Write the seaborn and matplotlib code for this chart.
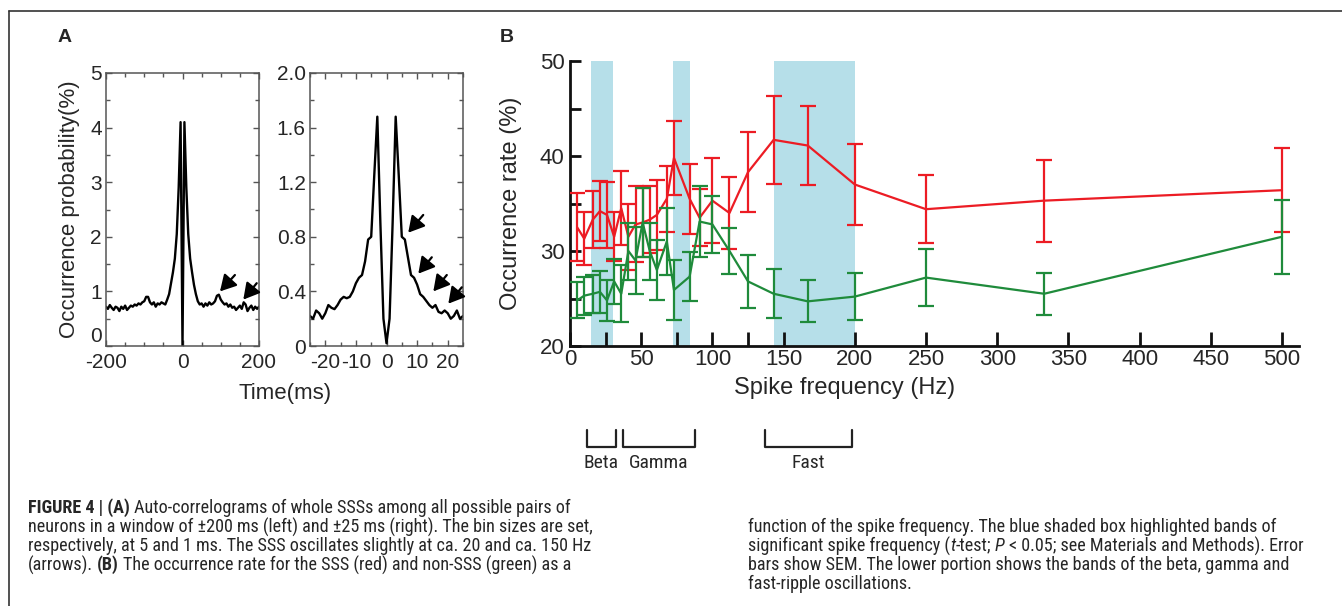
import numpy as np
import pandas as pd
import matplotlib
matplotlib.use("Agg")
import matplotlib.pyplot as plt
import seaborn as sns
from matplotlib import font_manager
from matplotlib.lines import Line2D
from matplotlib.ticker import MultipleLocator, FixedLocator

# ---------------- data ----------------
lag_wide_ms = list(range(-200, 201, 5))
prob_wide = [0.72, 0.68, 0.75, 0.70, 0.66, 0.72, 0.70, 0.64, 0.72, 0.68,
             0.74, 0.66, 0.70, 0.74, 0.72, 0.76, 0.74, 0.78, 0.76, 0.80,
             0.82, 0.90, 0.90, 0.80, 0.76, 0.80, 0.72, 0.78, 0.76, 0.80,
             0.78, 0.76, 0.85, 0.95, 1.15, 1.35, 1.60, 2.05, 2.90, 4.10,
             0.00,
             4.10, 2.90, 2.05, 1.60, 1.35, 1.12, 0.95, 0.82, 0.76, 0.78,
             0.72, 0.78, 0.74, 0.80, 0.76, 0.78, 0.82, 0.92, 0.94, 0.85,
             0.80, 0.76, 0.78, 0.72, 0.76, 0.70, 0.72, 0.66, 0.70, 0.74,
             0.68, 0.80, 0.76, 0.64, 0.70, 0.74, 0.66, 0.72, 0.68, 0.72]

lag_narrow_ms = list(range(-25, 26))
prob_narrow = [0.22, 0.20, 0.26, 0.24, 0.20, 0.24, 0.30, 0.28, 0.27, 0.30,
               0.34, 0.36, 0.35, 0.36, 0.40, 0.46, 0.50, 0.52, 0.62, 0.78,
               0.80, 1.25, 1.68, 0.90, 0.20,
               0.02,
               0.20, 0.90, 1.68, 1.25, 0.80, 0.78, 0.65, 0.52, 0.50, 0.45,
               0.38, 0.36, 0.33, 0.30, 0.28, 0.30, 0.25, 0.24, 0.26, 0.24,
               0.20, 0.22, 0.26, 0.20, 0.22]

freq_hz = [5, 10, 16, 21, 26, 31, 36, 41, 46, 51, 56, 61, 68, 73, 84, 91,
           100, 112, 125, 143, 167, 200, 250, 333, 500]
sss_rate = [32.5, 31.3, 33.3, 34.2, 33.8, 31.5, 34.5, 31.5, 32.8, 33.0,
            33.3, 33.8, 35.5, 39.8, 35.5, 33.5, 35.3, 34.0, 38.3, 41.7,
            41.1, 37.0, 34.4, 35.3, 36.4]
sss_sem = [3.6, 2.8, 3.0, 3.2, 3.5, 2.6, 3.9, 3.5, 4.0, 3.6,
           3.5, 3.7, 3.5, 3.9, 3.7, 3.0, 4.5, 3.8, 4.2, 4.6,
           4.2, 4.3, 3.6, 4.3, 4.4]
non_sss_rate = [24.8, 25.3, 25.5, 25.7, 24.8, 26.8, 25.5, 30.0, 29.0, 33.0,
                30.0, 28.0, 31.0, 25.9, 27.3, 33.1, 32.8, 30.0, 26.8, 25.5,
                24.7, 25.2, 27.2, 25.5, 31.5]
non_sss_sem = [1.9, 2.0, 2.0, 2.2, 2.2, 2.4, 3.0, 3.0, 3.5, 3.6,
               3.0, 3.2, 3.5, 3.2, 2.6, 3.7, 3.0, 2.4, 2.8, 2.6,
               2.2, 2.5, 3.0, 2.2, 3.9]

sig_bands = [(15, 30), (72, 84), (143, 200)]
osc_bands = [(12, 32, "Beta"), (37, 88, "Gamma"), (137, 198, "Fast")]

# arrows in panel A: (tip_x, tip_y, tail_x, tail_y)
arrows_wide = [(98, 1.00, 137, 1.30), (159, 0.85, 194, 1.15)]
arrows_narrow = [(7.1, 0.83, 12.0, 0.96), (10.4, 0.53, 14.8, 0.65),
                 (15.3, 0.40, 19.7, 0.52), (20.2, 0.31, 24.6, 0.43)]

caption_left = [
    [("FIGURE 4 | (A)", "bold", "normal"),
     ("Auto-correlograms of whole SSSs among all possible pairs of", "normal", "normal")],
    [("neurons in a window of \u00b1200 ms (left) and \u00b125 ms (right). The bin sizes are set,", "normal", "normal")],
    [("respectively, at 5 and 1 ms. The SSS oscillates slightly at ca. 20 and ca. 150 Hz", "normal", "normal")],
    [("(arrows).", "normal", "normal"), ("(B)", "bold", "normal"),
     ("The occurrence rate for the SSS (red) and non-SSS (green) as a", "normal", "normal")],
]
caption_right = [
    [("function of the spike frequency. The blue shaded box highlighted bands of", "normal", "normal")],
    [("significant spike frequency (", "normal", "normal"), ("t", "normal", "italic"),
     ("-test;", "normal", "normal"), ("P", "normal", "italic"),
     ("< 0.05; see Materials and Methods). Error", "normal", "normal")],
    [("bars show SEM. The lower portion shows the bands of the beta, gamma and", "normal", "normal")],
    [("fast-ripple oscillations.", "normal", "normal")],
]

# ---------------- style ----------------
sns.set_style("ticks")
names = {f.name for f in font_manager.fontManager.ttflist}
main_font = ["Liberation Sans", "DejaVu Sans"]
narrow_font = ["Liberation Sans", "DejaVu Sans"]
narrow_stretch = "normal"
for cand in ["Liberation Sans Narrow", "Roboto Condensed", "Open Sans Condensed",
             "Noto Sans Condensed", "Arial Narrow", "Nimbus Sans Narrow"]:
    if cand in names:
        narrow_font = [cand, "DejaVu Sans"]
        break
else:
    cond = [f for f in font_manager.fontManager.ttflist
            if str(f.stretch) in ("condensed", "semi-condensed", "extra-condensed")]
    if cond:
        narrow_font = [cond[0].name, "DejaVu Sans"]
        narrow_stretch = cond[0].stretch

plt.rcParams["font.family"] = main_font
plt.rcParams["axes.unicode_minus"] = False

W, H = 1342, 606
fig = plt.figure(figsize=(W / 100, H / 100), dpi=100)
fig.patch.set_facecolor("white")

def fx(px):
    return px / W

def fy(py):
    return 1 - py / H

RED = "#ec1c24"
GREEN = "#1f8b3b"
BLUE = "#b6dfe9"
GRAY = "#555555"

# ---------------- panel A ----------------
axL = fig.add_axes([fx(106), fy(346), fx(259) - fx(106), fy(73) - fy(346)])
axR = fig.add_axes([fx(310), fy(346), fx(463) - fx(310), fy(73) - fy(346)])

dfw = pd.DataFrame({"lag": lag_wide_ms, "prob": prob_wide})
dfn = pd.DataFrame({"lag": lag_narrow_ms, "prob": prob_narrow})
sns.lineplot(data=dfw, x="lag", y="prob", ax=axL, color="black", lw=1.7)
sns.lineplot(data=dfn, x="lag", y="prob", ax=axR, color="black", lw=1.7)

axL.set_xlim(-200, 200)
axL.set_ylim(0, 5)
axL.set_xticks([-200, 0, 200])
axL.xaxis.set_minor_locator(MultipleLocator(50))
axL.set_yticks([0, 1, 2, 3, 4, 5])
axL.yaxis.set_minor_locator(MultipleLocator(0.5))

axR.set_xlim(-25, 25)
axR.set_ylim(0, 2.0)
axR.set_xticks([-20, -10, 0, 10, 20])
axR.xaxis.set_minor_locator(MultipleLocator(5))
axR.set_yticks([0, 0.4, 0.8, 1.2, 1.6, 2.0])
axR.set_yticklabels(["0", "0.4", "0.8", "1.2", "1.6", "2.0"])
axR.yaxis.set_minor_locator(MultipleLocator(0.2))

for ax in (axL, axR):
    ax.set_xlabel("")
    ax.set_ylabel("")
    for s in ax.spines.values():
        s.set_visible(True)
        s.set_color(GRAY)
        s.set_linewidth(1.1)
    ax.tick_params(which="both", direction="in", top=True, right=True,
                   color=GRAY, width=1.0, labelsize=15, pad=3)
    ax.tick_params(axis="x", which="both", pad=5)
    ax.tick_params(which="major", length=4)
    ax.tick_params(which="minor", length=3)

fig.canvas.draw()
axL.get_yticklabels()[0].set_va("bottom")

axL.set_ylabel("Occurrence probability(%)", fontsize=16)
axL.yaxis.set_label_coords((80 - 106) / 153, 0.5)
fig.text(fx(285), fy(393), "Time(ms)", fontsize=16, ha="center", va="center")

astyle = "-|>,head_length=0.8,head_width=0.45"
for (tx, ty, sx, sy) in arrows_wide:
    axL.annotate("", xy=(tx, ty), xytext=(sx, sy), annotation_clip=False,
                 arrowprops=dict(arrowstyle=astyle, color="black", lw=1.6,
                                 mutation_scale=12, shrinkA=0, shrinkB=0))
for (tx, ty, sx, sy) in arrows_narrow:
    axR.annotate("", xy=(tx, ty), xytext=(sx, sy), annotation_clip=False,
                 arrowprops=dict(arrowstyle=astyle, color="black", lw=1.6,
                                 mutation_scale=12, shrinkA=0, shrinkB=0))

fig.text(fx(58), fy(38), "A", fontsize=14, fontweight="bold", ha="left", va="center")

# ---------------- panel B ----------------
x_max = 512
axB_w = 1.424 * x_max
axB = fig.add_axes([fx(570), fy(346), fx(570 + axB_w) - fx(570), fy(61) - fy(346)])
for lo, hi in sig_bands:
    axB.axvspan(lo, hi, color=BLUE, lw=0, zorder=0)

sns.lineplot(x=freq_hz, y=sss_rate, ax=axB, color=RED, lw=1.6, zorder=3)
axB.errorbar(freq_hz, sss_rate, yerr=sss_sem, fmt="none", ecolor=RED,
             elinewidth=1.6, capsize=6, capthick=1.6, zorder=3)
sns.lineplot(x=freq_hz, y=non_sss_rate, ax=axB, color=GREEN, lw=1.6, zorder=4)
axB.errorbar(freq_hz, non_sss_rate, yerr=non_sss_sem, fmt="none", ecolor=GREEN,
             elinewidth=1.6, capsize=6, capthick=1.6, zorder=4)

axB.set_xlim(0, x_max)
axB.set_ylim(20, 50)
axB.set_xticks(list(range(0, 501, 50)))
axB.xaxis.set_minor_locator(FixedLocator([25, 75, 125]))
axB.set_yticks([20, 30, 40, 50])
axB.yaxis.set_minor_locator(MultipleLocator(5))
sns.despine(ax=axB)
for s in ("left", "bottom"):
    axB.spines[s].set_linewidth(2.0)
    axB.spines[s].set_color("#111111")
axB.tick_params(which="both", direction="in", width=2.0, color="#111111",
                labelsize=16, pad=4)
axB.tick_params(axis="x", which="both", length=10, pad=2)
axB.tick_params(axis="y", which="both", length=8)
axB.set_xlabel("Spike frequency (Hz)", fontsize=17)
axB.xaxis.set_label_coords((845 - 570) / axB_w, (346 - 377) / 285)
axB.set_ylabel("Occurrence rate (%)", fontsize=17)
axB.yaxis.set_label_coords((522 - 570) / axB_w, 0.5)

trans = axB.get_xaxis_transform()
y_top, y_bot, y_lab = (346 - 430) / 285, (346 - 447) / 285, (346 - 463) / 285
for lo, hi, name in osc_bands:
    axB.plot([lo, lo, hi, hi], [y_top, y_bot, y_bot, y_top], transform=trans,
             color="#222222", lw=1.6, clip_on=False)
    axB.text((lo + hi) / 2, y_lab, name, transform=trans, ha="center", va="center",
             fontsize=14, family=narrow_font, fontstretch=narrow_stretch)

fig.text(fx(500), fy(38), "B", fontsize=14, fontweight="bold", ha="left", va="center")

# ---------------- frame ----------------
fig.add_artist(Line2D([fx(9), fx(9)], [fy(11), 0], color="#333333", lw=1.2))
fig.add_artist(Line2D([fx(9), 1], [fy(11), fy(11)], color="#333333", lw=1.2))

# ---------------- caption ----------------
renderer = fig.canvas.get_renderer()

def measure(s, size, weight="normal", style="normal"):
    t = fig.text(0, 0, s, fontsize=size, fontweight=weight, fontstyle=style,
                 family=narrow_font, fontstretch=narrow_stretch)
    w = t.get_window_extent(renderer).width
    t.remove()
    return w

def joins(segs, i):
    return i < len(segs) - 1 and not segs[i][0].endswith("(") and not segs[i + 1][0].startswith("-")

def line_width(segs, size):
    gap = measure("n n", size) - measure("nn", size)
    total = 0.0
    for i, (s, weight, style) in enumerate(segs):
        total += measure(s, size, weight, style)
        if joins(segs, i):
            total += gap
    return total

base = 11.0
size_left = min(base * 612.0 / line_width(segs, base) for segs in caption_left)
size_right = min(base * 557.0 / line_width(segs, base) for segs in caption_right)
cap_size = min(13.6, size_left, size_right)

def place_line(x_px, y_px, segs, size):
    x = x_px
    gap = measure("n n", size) - measure("nn", size)
    for i, (s, weight, style) in enumerate(segs):
        t = fig.text(fx(x), fy(y_px), s, fontsize=size, fontweight=weight,
                     fontstyle=style, family=narrow_font, fontstretch=narrow_stretch,
                     ha="left", va="center")
        x += t.get_window_extent(renderer).width
        if joins(segs, i):
            x += gap

line_y = [508, 527, 546, 565, 584]
for i, segs in enumerate(caption_left):
    place_line(28, line_y[i], segs, cap_size)
for i, segs in enumerate(caption_right):
    place_line(748, line_y[i + 1], segs, cap_size)

fig.savefig("out.png", dpi=100, facecolor="white")
